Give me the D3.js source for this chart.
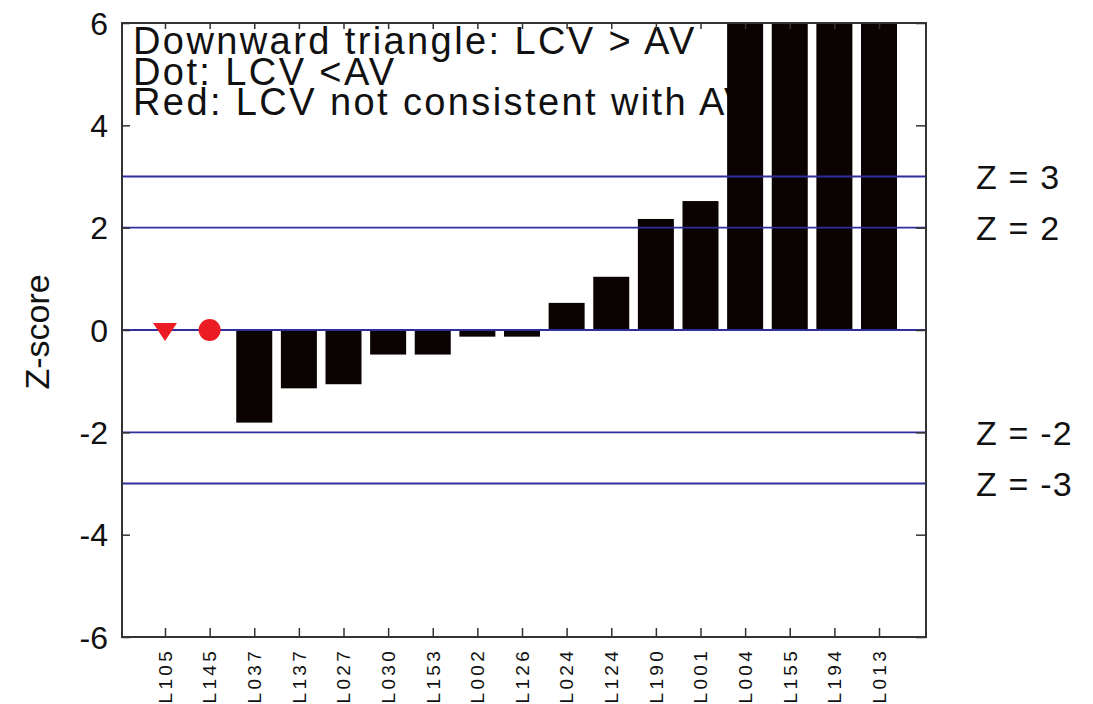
<!DOCTYPE html>
<html>
<head>
<meta charset="utf-8">
<script src="https://cdn.jsdelivr.net/npm/d3@7"></script>
<style>
  html, body { margin: 0; padding: 0; background: #fff; }
  svg { display: block; }
  text { font-family: "Liberation Sans", Arial, sans-serif; fill: #111; }
</style>
</head>
<body>
<svg id="chart" width="1093" height="704"></svg>
<script>
// Laboratory codes along the x axis
const labs = ["L105", "L145", "L037", "L137", "L027", "L030", "L153", "L002", "L126",
              "L024", "L124", "L190", "L001", "L004", "L155", "L194", "L013"];
// Z-score per laboratory (null = shown as a marker instead of a bar)
const zScores = [null, null, -1.81, -1.14, -1.06, -0.48, -0.48, -0.13, -0.13,
                 0.53, 1.04, 2.17, 2.52, 9.5, 11.2, 8.7, 10.4];
// Marker type for labs without a bar
const markers = ["triangle", "dot", null, null, null, null, null, null, null,
                 null, null, null, null, null, null, null, null];
// Reference lines and their labels
const refLevels = [3, 2, -2, -3];
const refLabels = ["Z = 3", "Z = 2", "Z = -2", "Z = -3"];
const yTicks = [-6, -4, -2, 0, 2, 4, 6];
const notes = ["Downward triangle: LCV > AV", "Dot: LCV <AV", "Red: LCV not consistent with AV"];

const svg = d3.select("#chart");
const plotLeft = 122, plotRight = 926, plotTop = 23, plotBottom = 637;

const x = d3.scalePoint().domain(labs).range([plotLeft + 43, plotRight - 47]);
const y = d3.scaleLinear().domain([-6, 6]).range([plotBottom, plotTop]);
const barW = 36;
const lineColor = "#2e2e9c";
const red = "#ec1c24";

svg.append("defs").append("clipPath").attr("id", "plotClip")
  .append("rect").attr("x", plotLeft).attr("y", plotTop)
  .attr("width", plotRight - plotLeft).attr("height", plotBottom - plotTop);

// Notes text inside the plot (bars are drawn over it)
svg.append("g").selectAll("text").data(notes).join("text")
  .attr("x", plotLeft + 11)
  .attr("y", (d, i) => 54 + i * 30.5)
  .attr("font-size", 38)
  .attr("letter-spacing", 2.4)
  .text(d => d);

// Bars
const rows = labs.map((lab, i) => ({ lab, z: zScores[i], m: markers[i] }));
svg.append("g").attr("clip-path", "url(#plotClip)")
  .selectAll("rect").data(rows.filter(r => r.z !== null)).join("rect")
  .attr("x", d => x(d.lab) - barW / 2)
  .attr("width", barW)
  .attr("y", d => y(Math.max(0, d.z)))
  .attr("height", d => Math.abs(y(d.z) - y(0)))
  .attr("fill", "#0b0202");

// Zero and reference lines
svg.append("g").selectAll("line").data([0, ...refLevels]).join("line")
  .attr("x1", plotLeft).attr("x2", plotRight)
  .attr("y1", d => y(d)).attr("y2", d => y(d))
  .attr("stroke", lineColor).attr("stroke-width", 1.8);

// Markers
const mk = svg.append("g");
rows.filter(r => r.m === "dot").forEach(r => {
  mk.append("circle").attr("cx", x(r.lab)).attr("cy", y(0)).attr("r", 11).attr("fill", red);
});
rows.filter(r => r.m === "triangle").forEach(r => {
  const cx = x(r.lab), cy = y(0);
  const p = d3.path();
  p.moveTo(cx - 12, cy - 7);
  p.lineTo(cx + 12, cy - 7);
  p.lineTo(cx, cy + 11);
  p.closePath();
  mk.append("path").attr("d", p.toString()).attr("fill", red);
});

// Frame
svg.append("rect").attr("x", plotLeft).attr("y", plotTop)
  .attr("width", plotRight - plotLeft).attr("height", plotBottom - plotTop)
  .attr("fill", "none").attr("stroke", "#333").attr("stroke-width", 2);

// Axes with inward ticks
const axisStyle = g => {
  g.select(".domain").remove();
  g.selectAll(".tick line").attr("stroke", "#333").attr("stroke-width", 1.5);
};
svg.append("g").attr("transform", `translate(0,${plotBottom})`)
  .call(d3.axisBottom(x).tickSize(-9).tickFormat(""))
  .call(axisStyle);
svg.append("g").attr("transform", `translate(0,${plotTop})`)
  .call(d3.axisTop(x).tickSize(-6).tickFormat(""))
  .call(axisStyle);
svg.append("g").attr("transform", `translate(${plotLeft},0)`)
  .call(d3.axisLeft(y).tickValues(yTicks).tickSize(-8).tickFormat(""))
  .call(axisStyle);
svg.append("g").attr("transform", `translate(${plotRight},0)`)
  .call(d3.axisRight(y).tickValues(yTicks).tickSize(-10).tickFormat(""))
  .call(axisStyle);

// Y tick labels
svg.append("g").selectAll("text").data(yTicks).join("text")
  .attr("x", plotLeft - 14)
  .attr("y", d => y(d))
  .attr("dy", "0.36em")
  .attr("text-anchor", "end")
  .attr("font-size", 32)
  .text(d => d);

// X tick labels (rotated)
svg.append("g").selectAll("text").data(labs).join("text")
  .attr("transform", d => `translate(${x(d)},${plotBottom + 11}) rotate(-90)`)
  .attr("dy", "0.36em")
  .attr("text-anchor", "end")
  .attr("font-size", 19)
  .attr("letter-spacing", 3.3)
  .text(d => d);

// Y axis title
svg.append("text")
  .attr("transform", `translate(37,${y(0) + 2}) rotate(-90)`)
  .attr("dy", "0.36em")
  .attr("text-anchor", "middle")
  .attr("font-size", 34)
  .text("Z-score");

// Reference line labels
svg.append("g").selectAll("text").data(refLevels).join("text")
  .attr("x", 976)
  .attr("y", d => y(d))
  .attr("dy", "0.36em")
  .attr("font-size", 34)
  .attr("letter-spacing", 1.2)
  .text((d, i) => refLabels[i]);
</script>
</body>
</html>
